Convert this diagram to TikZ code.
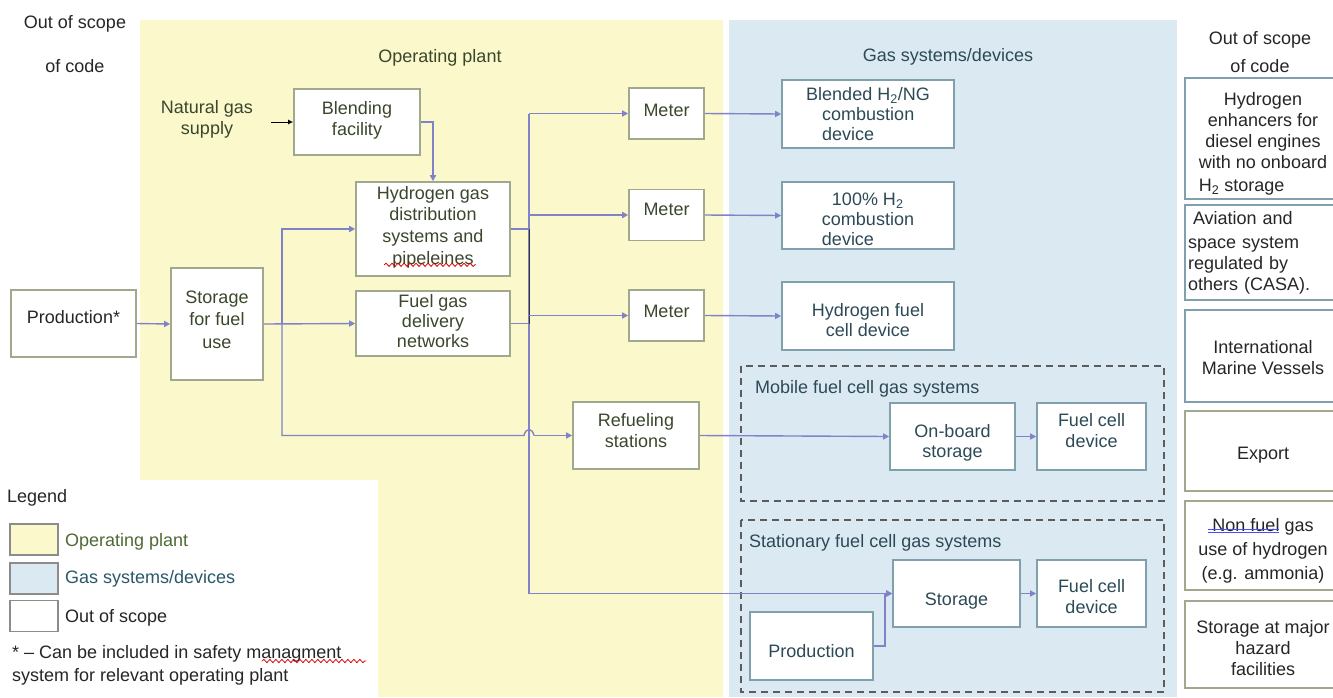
\documentclass[tikz,border=0pt]{standalone}
\usepackage{fontspec}
\setmainfont{Liberation Sans}
\usetikzlibrary{arrows.meta,decorations.pathmorphing}
\definecolor{yfill}{HTML}{FBF8CB}
\definecolor{bfill}{HTML}{DBEAF2}
\definecolor{conncol}{HTML}{8083C8}
\definecolor{ytext}{HTML}{3A472C}
\definecolor{btext}{HTML}{2C4A56}
\definecolor{ylegend}{HTML}{4F6A34}
\definecolor{blegend}{HTML}{2A5868}
\definecolor{yborder}{HTML}{A0A88E}
\definecolor{bborder}{HTML}{7FA0AC}
\definecolor{dashcol}{HTML}{5C5C5C}
\tikzset{
  base/.style={font=\fontsize{18}{21}\selectfont, inner sep=0pt},
  tight/.style={font=\fontsize{18}{20}\selectfont},
  ybox/.style={base, draw=yborder, line width=1.6pt, fill=white, text=ytext, align=center},
  bbox/.style={base, draw=bborder, line width=1.6pt, fill=white, text=btext, align=center},
  obox/.style={base, line width=1.6pt, fill=white, text=black!85, align=center},
  lbl/.style={base},
  conn/.style={draw=conncol, line width=1.4pt, -{Triangle[length=6pt,width=6pt]}},
  connl/.style={draw=conncol, line width=1.4pt},
  grouping/.style={draw=dashcol, dash pattern=on 7pt off 5pt, line width=1.5pt},
  swatch/.style={draw=black!45, line width=1.6pt, minimum width=48pt, minimum height=31pt, inner sep=0pt},
  squiggle/.style={draw=red!85!black, line width=0.8pt, decorate, decoration={snake, amplitude=1.6pt, segment length=6pt}},
}
\begin{document}
\begin{tikzpicture}[x=1pt,y=-1pt]
\useasboundingbox (0,0) rectangle (1333,697);
\fill[white] (0,0) rectangle (1333,697);
% regions
\fill[yfill] (140,20) rectangle (723,697);
\fill[bfill] (729,20) rectangle (1177,697);
\fill[white] (0,480) rectangle (378,697);

% headers
\node[lbl, text=black!85, font=\fontsize{18}{44}\selectfont, align=center] (oosl) at (75,44) {Out of scope\\of code};
\node[lbl, text=ytext] (hop) at (440,58) {Operating plant};
\node[lbl, text=btext] (hgs) at (948,57) {Gas systems/devices};
\node[lbl, text=black!85, font=\fontsize{18}{28}\selectfont, align=center] (oosr) at (1260,52) {Out of scope\\of code};

% dashed groups
\draw[grouping] (741,366) rectangle (1164,501);
\draw[grouping] (741,520) rectangle (1164,692);
\node[lbl, text=btext, anchor=west] (mobl) at (755,389) {Mobile fuel cell gas systems};
\node[lbl, text=btext, anchor=west] (stal) at (749,543) {Stationary fuel cell gas systems};

% operating plant nodes
\node[ybox, text=black!85, minimum width=125pt, minimum height=67pt] (prod) at (73.5,323.5) {Production*\\[-8pt]};
\node[ybox, minimum width=92pt, minimum height=112pt] (stor) at (217,324) {Storage\\[1pt]for fuel\\[2pt]use\\[-13pt]};
\node[lbl, text=ytext, align=center] (ngs) at (207,119) {Natural gas\\supply};
\node[ybox, minimum width=126pt, minimum height=66pt] (blend) at (357,122) {Blending\\facility\\[-13pt]};
\node[ybox, font=\fontsize{18}{21.6}\selectfont, minimum width=154pt, minimum height=94pt] (hdist) at (433,229) {Hydrogen gas\\distribution\\systems and\\pipeleines\\[-14pt]};
\node[ybox, tight, minimum width=154pt, minimum height=65pt] (fgd) at (433,323.5) {Fuel gas\\delivery\\networks\\[-15pt]};
\node[ybox, minimum width=75pt, minimum height=51pt] (m1) at (666.5,113.5) {Meter\\[-15pt]};
\node[ybox, minimum width=75pt, minimum height=51pt] (m2) at (666.5,215) {Meter\\[-10pt]};
\node[ybox, minimum width=75pt, minimum height=51pt] (m3) at (666.5,315.5) {Meter\\[-12pt]};
\node[ybox, minimum width=126pt, minimum height=67pt] (refuel) at (636,435.5) {Refueling\\stations\\[-11pt]};

% gas systems nodes
\node[bbox, tight, align=left, minimum width=172pt, minimum height=68pt] (d1) at (868,114) {Blended H\textsubscript{2}/NG\\\hspace*{16pt}combustion\\\hspace*{16pt}device};
\node[bbox, tight, align=left, minimum width=172pt, minimum height=67pt] (d2) at (868,215.5) {\hspace*{10pt}100\% H\textsubscript{2}\\combustion\\device\\[-28pt]};
\node[bbox, tight, minimum width=172pt, minimum height=68pt] (d3) at (868,316) {Hydrogen fuel\\cell device\\[-28pt]};
\node[bbox, tight, minimum width=125pt, minimum height=67pt] (onb) at (952.5,436.5) {On-board\\storage\\[-29pt]};
\node[bbox, minimum width=109pt, minimum height=67pt] (fc1) at (1091.5,436.5) {Fuel cell\\device\\[-9pt]};
\node[bbox, minimum width=127pt, minimum height=67pt] (sto) at (956.5,593.5) {Storage\\[-33pt]};
\node[bbox, minimum width=109pt, minimum height=67pt] (fc2) at (1091.5,593.5) {Fuel cell\\device\\[-26pt]};
\node[bbox, minimum width=123pt, minimum height=68pt] (sprod) at (811.5,646) {Production\\[-31pt]};

% out of scope column
\node[obox, draw=bborder, minimum width=156pt, minimum height=121pt] (o1) at (1263,138.5) {Hydrogen\\enhancers for\\diesel engines\\with no onboard\\[2pt]\rlap{H\textsubscript{2} storage}\phantom{with no onboard}\\[-28pt]};
\node[obox, draw=bborder, align=left, text width=150pt, minimum width=156pt, minimum height=95pt] (o2) at (1263,252.5) {\hspace*{5pt}Aviation and\\[3pt]space system\\regulated by\\others (CASA).};
\node[obox, draw=bborder, minimum width=156pt, minimum height=92pt] (o3) at (1263,356) {International\\Marine Vessels\\[-23pt]};
\node[obox, draw=yborder, minimum width=156pt, minimum height=80pt] (o4) at (1263,451) {Export\\[-25pt]};
\node[obox, draw=yborder, minimum width=156pt, minimum height=89pt, font=\fontsize{18}{24}\selectfont] (o5) at (1263,545.5) {Non fuel gas\\use of hydrogen\\(e.g. ammonia)\\[-30pt]};
\node[obox, draw=yborder, minimum width=156pt, minimum height=87pt] (o6) at (1263,644.5) {Storage at major\\hazard\\facilities\\[-27pt]};

% legend
\node[lbl, text=black!85, anchor=west] (leg) at (7,498) {Legend};
\node[swatch, fill=yfill] (sw1) at (34,539.5) {};
\node[swatch, fill=bfill] (sw2) at (34,578.5) {};
\node[swatch, fill=white] (sw3) at (34,616) {};
\node[lbl, text=ylegend, anchor=west] (lt1) at (65,542) {Operating plant};
\node[lbl, text=blegend, anchor=west] (lt2) at (65,579) {Gas systems/devices};
\node[lbl, text=black!85, anchor=west] (lt3) at (65,618) {Out of scope};
\node[lbl, text=black!85, anchor=west, align=left, font=\fontsize{18}{23}\selectfont] (foot) at (12,665) {* -- Can be included in safety managment\\system for relevant operating plant};

% spell-check marks
\draw[squiggle] ([xshift=29pt,yshift=12pt]hdist.south west) -- ([xshift=121pt,yshift=12pt]hdist.south west);
\draw[squiggle] (262,661) -- (366,661);
\draw[blue!70, line width=0.9pt] (1208,529) -- (1279,529);
\draw[blue!70, line width=0.9pt] (1208,532.5) -- (1279,532.5);

% connectors
\coordinate (ngsout) at (271,122);
\coordinate (jx) at (282,324);
\coordinate (mx) at (529,113.5);
\draw[black, line width=1pt, -{Latex[length=5pt,width=5pt]}] (ngsout) -- (blend.west);
\draw[conn] (blend.east) -| (hdist.north);
\draw[conn] (prod.east) -- (stor.west);
\draw[conn] (stor.east) -- (fgd.west);
\draw[conn] (jx) |- (hdist.west);
\draw[connl] (jx) -- (jx |- refuel.west) -- ([xshift=-5pt]mx |- refuel.west)
   .. controls +(2,-8) and +(-2,-8) .. ([xshift=5pt]mx |- refuel.west);
\draw[conn] ([xshift=5pt]mx |- refuel.west) -- (refuel.west);
\draw[connl] (mx) -- (mx |- sto.west);
\draw[connl] (hdist.east) -- (hdist.east -| mx);
\draw[connl] (fgd.east) -- (fgd.east -| mx);
\draw[black!80, line width=1pt] (hdist.east -| mx) -- (fgd.east -| mx);
\draw[conn] (mx) -- (m1.west);
\draw[conn] (mx |- m2.west) -- (m2.west);
\draw[conn] (mx |- m3.west) -- (m3.west);
\draw[conn] (mx |- sto.west) -- (sto.west);
\draw[conn] (m1.east) -- (d1.west);
\draw[conn] (m2.east) -- (d2.west);
\draw[conn] (m3.east) -- (d3.west);
\draw[conn] (refuel.east) -- (onb.west);
\draw[conn] (onb.east) -- (fc1.west);
\draw[conn] (sto.east) -- (fc2.west);
\draw[conn] (sprod.east) -- ++(11,0) |- (sto.west);
\end{tikzpicture}
\end{document}
